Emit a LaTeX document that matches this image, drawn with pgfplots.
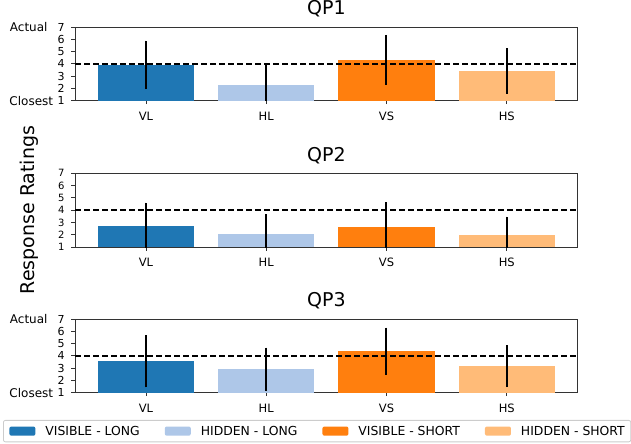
\documentclass[border=0pt]{standalone}
\usepackage{fontspec}
\setmainfont{DejaVu Sans}
\usepackage{pgfplots}
\pgfplotsset{compat=1.18}
\definecolor{cVL}{HTML}{1F77B4}
\definecolor{cHL}{HTML}{AEC7E8}
\definecolor{cVS}{HTML}{FF7F0E}
\definecolor{cHS}{HTML}{FFBB78}
\pgfplotsset{
  mybar/.style={ybar, bar width=0.8, bar shift=0pt, fill=#1, draw=none,
    legend image code/.code={\fill[fill=#1] (0bp,-4.6bp) rectangle (26bp,4.6bp);},
    error bars/.cd, y dir=both, y explicit, error mark=none,
    error bar style={line width=2bp, black}},
  panel/.style={
    scale only axis, width=502.7bp, height=73.7bp,
    anchor=north west,
    xmin=-0.59, xmax=3.59, ymin=1, ymax=7,
    xtick={0,1,2,3}, xticklabels={VL,HL,VS,HS},
    ytick={1,2,3,4,5,6,7},
    tick align=outside, xtick pos=bottom, ytick pos=left,
    major tick length=3.5bp,
    every tick/.style={black!80, line width=0.8bp},
    axis line style={black!80, line width=0.8bp},
    /pgf/number format/assume math mode=true,
    xticklabel style={font=\fontsize{11.5bp}{13bp}\selectfont, inner sep=0pt, text height=8.4bp, anchor=north, yshift=-7.3bp},
    yticklabel style={inner sep=0pt, anchor=east, xshift=-6.7bp},
    title style={font=\fontsize{19bp}{22bp}\selectfont, at={(0.5,1)}, anchor=base, yshift=6.3bp},
  },
}
\newcommand{\sidelabels}{%
  \node[anchor=east, inner sep=0pt, text height=8.75bp, text depth=0pt, font=\fontsize{12bp}{14bp}\selectfont] at ([xshift=-27.3bp]axis cs:-0.59,7) {Actual};
  \node[anchor=east, inner sep=0pt, text height=8.75bp, text depth=0pt, font=\fontsize{12bp}{14bp}\selectfont] at ([xshift=-21.7bp]axis cs:-0.59,1) {Closest};
}
\begin{document}
\begin{tikzpicture}
\useasboundingbox (0,0) rectangle (631bp,-444bp);
% ---------- QP1
\begin{axis}[panel, at={(75bp,-27bp)}, title={QP1},
  yticklabel style={font=\fontsize{11bp}{13bp}\selectfont},
  after end axis/.code={\sidelabels}]
\addplot[mybar=cVL] coordinates {(0,3.92) +- (0,1.97)};
\addplot[mybar=cHL] coordinates {(1,2.30) +- (0,1.70)};
\addplot[mybar=cVS] coordinates {(2,4.33) +- (0,2.02)};
\addplot[mybar=cHS] coordinates {(3,3.43) +- (0,1.86)};
\addplot[black, line width=1.6bp, dash pattern=on 6bp off 3bp] coordinates {(-0.59,4) (3.59,4)};
\end{axis}
% ---------- QP2
\begin{axis}[panel, at={(75bp,-173.3bp)}, title={QP2},
  yticklabel style={font=\fontsize{10bp}{12bp}\selectfont}]
\addplot[mybar=cVL] coordinates {(0,2.70) +- (0,1.91)};
\addplot[mybar=cHL] coordinates {(1,2.05) +- (0,1.63)};
\addplot[mybar=cVS] coordinates {(2,2.62) +- (0,2.02)};
\addplot[mybar=cHS] coordinates {(3,1.97) +- (0,1.50)};
\addplot[black, line width=1.6bp, dash pattern=on 6bp off 3bp] coordinates {(-0.59,4) (3.59,4)};
\end{axis}
% ---------- QP3
\begin{axis}[panel, at={(75bp,-319bp)}, title={QP3},
  yticklabel style={font=\fontsize{11bp}{13bp}\selectfont},
  after end axis/.code={\sidelabels},
  legend columns=4, legend cell align=left,
  legend style={at={(axis description cs:-0.1432,-0.370)}, anchor=north west,
    draw=black!20, line width=0.8bp, rounded corners=2bp,
    inner xsep=6bp, inner ysep=6bp,
    font=\fontsize{12.4bp}{14bp}\selectfont,
    nodes={inner sep=0pt, text height=9bp, text depth=0.5bp},
    /tikz/every odd column/.style={column sep=10bp},
    /tikz/every even column/.style={column sep=25bp}}]
\addplot[mybar=cVL] coordinates {(0,3.56) +- (0,2.12)};
\addlegendentry{VISIBLE - LONG}
\addplot[mybar=cHL] coordinates {(1,2.91) +- (0,1.76)};
\addlegendentry{HIDDEN - LONG}
\addplot[mybar=cVS] coordinates {(2,4.38) +- (0,1.92)};
\addlegendentry{VISIBLE - SHORT}
\addplot[mybar=cHS] coordinates {(3,3.15) +- (0,1.70)};
\addlegendentry{HIDDEN - SHORT}
\addplot[black, line width=1.6bp, dash pattern=on 6bp off 3bp, forget plot] coordinates {(-0.59,4) (3.59,4)};
\end{axis}
\node[rotate=90, anchor=base, inner sep=0pt, font=\fontsize{19bp}{22bp}\selectfont] at (34bp,-210bp) {Response Ratings};
\end{tikzpicture}
\end{document}
